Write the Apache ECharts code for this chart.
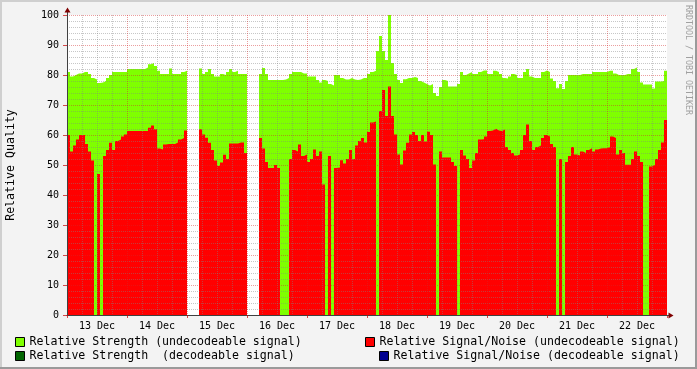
<!DOCTYPE html>
<html><head><meta charset="utf-8">
<script src="https://cdn.jsdelivr.net/npm/echarts@6/dist/echarts.min.js"></script>
<style>html,body{margin:0;padding:0;background:#F3F3F3}#c{width:697px;height:369px}</style>
</head><body><div id="c"></div>
<script>
// ---- data (each bin = 1.2 hours, starting 13 Dec 00:00) ----
const STEP_HOURS = 1.2;
const days = ['13 Dec','14 Dec','15 Dec','16 Dec','17 Dec','18 Dec','19 Dec','20 Dec','21 Dec','22 Dec'];
const seriesNames = [
  'Relative Strength (undecodeable signal)',
  'Relative Signal/Noise (undecodeable signal)',
  'Relative Strength  (decodeable signal)',
  'Relative Signal/Noise (decodeable signal)'
];
const strength = [
  81, 79.5, 80, 80.5, 80.5, 81, 81, 80.3, 79, 78.5,
  77.3, 77.5, 78, 79, 80, 81, 81, 81, 81, 81,
  82, 82, 82, 82, 82, 82, 82.5, 83.6, 84, 83,
  81.4, 80.3, 80.3, 80.3, 82.2, 80.3, 80.3, 80.3, 81, 81.4,
  null, null, null, null, 82.2, 80.3, 81, 82, 80.3, 79.5,
  79.5, 80.3, 80, 81, 82, 81, 81.4, 80.3, 80.3, 80.3,
  null, null, null, null, 80.3, 82.3, 80.3, 78.3, 78.3, 78.3,
  78.3, 78.3, 78.5, 79, 80.3, 81, 81, 81, 80.5, 80.5,
  79.5, 79.5, 79.5, 78.3, 77.5, 78.3, 78, 77, 76.5, 80,
  80, 79, 78.5, 78.5, 79, 78.5, 78.3, 78.5, 79, 79,
  80.3, 81, 81.4, 88, 93, 88, 85, 100, 84, 80.3,
  78.3, 77.3, 78.6, 79, 79, 79.3, 79, 78, 77.5, 77,
  76.5, 77, 74, 73, 76, 78.3, 78, 76.2, 76.2, 76.2,
  77, 81, 80, 80.5, 81, 80.3, 80.3, 81, 81.5, 81.5,
  80.3, 80.3, 81.4, 81, 80.3, 79, 78.8, 79.5, 80.3, 80,
  79, 79, 81, 82, 79.5, 79, 79, 79, 81, 81.5,
  81, 78.8, 78, 75.6, 77, 75.3, 78, 80, 80, 80,
  80, 80.3, 80.3, 80.3, 80.3, 81, 81, 81, 81, 81,
  81.4, 81.4, 80.5, 80, 80, 80, 80.3, 80.3, 82, 82.5,
  81, 77.5, 76.8, 76.8, 76.8, 75.5, 77.8, 77.8, 78, 81.4
];
const snr = [
  60, 54.5, 56.5, 58.5, 60, 60, 57, 54.5, 51.5, 0,
  47, 0, 53, 55, 57.4, 55, 58, 58.5, 59.5, 60.2,
  61.3, 61.3, 61.3, 61.3, 61.3, 61.3, 61.3, 62.4, 63.2, 61.9,
  55.5, 55.2, 56.8, 57, 57, 57, 57.5, 58.5, 59, 61.5,
  null, null, null, null, 61.9, 60.2, 59.1, 57.4, 55, 51.5,
  49.7, 50.8, 53.4, 52, 57.2, 57.2, 57.2, 57.5, 57.5, 54,
  null, null, null, null, 59, 55.5, 51, 49, 49, 50,
  49, 0, 0, 0, 52, 55, 54.5, 56.8, 53, 53.5,
  51, 52, 55.2, 53, 54.5, 43.5, 0, 53, 0, 49,
  49.2, 51.6, 50.5, 52, 55, 52, 56.5, 58, 59, 57.5,
  61, 64.2, 64.5, 0, 68, 75, 66.3, 76.2, 66.3, 60.2,
  53.5, 50.2, 54.8, 57.4, 60.2, 61, 60, 58, 60, 57.8,
  61.1, 60, 50.2, 0, 54.5, 52.5, 52.5, 52.5, 51, 49.7,
  0, 55, 53.2, 52, 49, 51.5, 54, 58.5, 58.6, 59.5,
  61.3, 61.5, 62.1, 61.5, 61.3, 61.8, 56, 55, 54, 53.2,
  53.5, 55, 60, 63.5, 58, 55, 56, 56.5, 59, 60,
  59.5, 57, 56, 0, 52, 0, 51, 53, 56, 53.5,
  53.2, 54.5, 54, 55, 55.6, 54.5, 55.2, 55.5, 55.6, 55.6,
  56, 59.5, 59, 53.5, 55, 54, 50.1, 50.1, 52, 54.5,
  53, 51, 0, 0, 49.5, 50, 52, 55, 57.5, 65
];
const strengthDecodeable = [];
const snrDecodeable = [];

// ---- build step data (each value held over its bin) ----
function stepData(vals) {
  const out = [];
  vals.forEach((v, i) => {
    const t0 = i * STEP_HOURS, t1 = (i + 1) * STEP_HOURS;
    if (v === null) out.push([t0 + STEP_HOURS / 2, null]);
    else { out.push([t0, v]); out.push([t1, v]); }
  });
  return out;
}

const FONT = '"DejaVu Sans Mono", monospace';
const majorGrid = {color: 'rgba(210,40,40,0.45)', type: [1, 1], width: 1};
const minorGrid = {color: 'rgba(130,130,130,0.45)', type: [1, 1], width: 1};
const legendBase = {
  orient: 'horizontal', padding: 0, itemWidth: 9, itemHeight: 9, itemGap: 0,
  selectedMode: false, icon: 'rect',
  textStyle: {fontFamily: FONT, fontSize: 11.6, color: '#000'},
  itemStyle: {borderColor: '#000', borderWidth: 1}
};
function areaSeries(name, vals, color) {
  return {
    name: name, type: 'line', data: stepData(vals), symbol: 'none', showSymbol: false,
    color: color, lineStyle: {width: 0}, areaStyle: {color: color, opacity: 1},
    connectNulls: false, silent: true, z: 2
  };
}

const chart = echarts.init(document.getElementById('c'), null, {renderer: 'canvas'});
const option = {
  animation: false,
  backgroundColor: '#F3F3F3',
  grid: {left: 67, right: 30, top: 15, bottom: 54, show: true, backgroundColor: '#ffffff', borderWidth: 0,
         containLabel: false, outerBoundsMode: 'none'},
  xAxis: [
    {
      type: 'value', min: 0, max: 240, interval: 24, z: 5,
      axisLine: {show: true, onZero: false, lineStyle: {color: '#404040', width: 1}},
      axisTick: {show: true, length: 3, lineStyle: {color: 'rgba(200,0,0,0.7)'}},
      axisLabel: {show: false},
      splitLine: {show: true, showMinLine: false, showMaxLine: false, lineStyle: majorGrid},
      minorTick: {show: false, splitNumber: 4},
      minorSplitLine: {show: true, lineStyle: minorGrid}
    },
    {
      type: 'value', min: 0, max: 240, interval: 12, position: 'bottom', z: 5,
      axisLine: {show: false}, axisTick: {show: false}, splitLine: {show: false},
      axisLabel: {
        show: true, margin: 6, fontFamily: FONT, fontSize: 10, color: '#000',
        formatter: function (v) { const h = Math.round(v); return (h % 24 === 12) ? days[(h - 12) / 24] : ''; }
      }
    }
  ],
  yAxis: {
    type: 'value', min: 0, max: 100, interval: 10, z: 5,
    name: 'Relative Quality', nameLocation: 'middle', nameGap: 50, nameRotate: 90,
    nameTextStyle: {fontFamily: FONT, fontSize: 11.6, color: '#000'},
    axisLine: {show: true, lineStyle: {color: '#404040', width: 1}},
    axisTick: {show: true, length: 4, lineStyle: {color: 'rgba(200,0,0,0.7)'}},
    axisLabel: {margin: 8, fontFamily: FONT, fontSize: 10, color: '#000'},
    splitLine: {show: true, showMinLine: false, lineStyle: majorGrid},
    minorTick: {show: false, splitNumber: 5},
    minorSplitLine: {show: true, lineStyle: minorGrid}
  },
  legend: [
    Object.assign({}, legendBase, {left: 15, top: 336, data: [seriesNames[0]]}),
    Object.assign({}, legendBase, {left: 365, top: 336, data: [seriesNames[1]]}),
    Object.assign({}, legendBase, {left: 15, top: 350, data: [seriesNames[2]]}),
    Object.assign({}, legendBase, {left: 379, top: 350, data: [seriesNames[3]]})
  ],
  series: [
    areaSeries(seriesNames[0], strength, '#7FFF00'),
    areaSeries(seriesNames[1], snr, '#FF0000'),
    areaSeries(seriesNames[2], strengthDecodeable, '#006400'),
    areaSeries(seriesNames[3], snrDecodeable, '#000090')
  ]
};
chart.setOption(option);

// decorations: frame shading, axis arrows, watermark
const tl = chart.convertToPixel({gridIndex: 0}, [0, 100]);
const br = chart.convertToPixel({gridIndex: 0}, [240, 0]);
const ax = Math.round(tl[0]) + 0.5, ay = Math.round(br[1]) + 0.5;
chart.setOption({
  graphic: [
    {type: 'rect', shape: {x: 0, y: 0, width: 697, height: 2}, style: {fill: '#CFCFCF'}, z: 100},
    {type: 'rect', shape: {x: 0, y: 0, width: 2, height: 369}, style: {fill: '#CFCFCF'}, z: 100},
    {type: 'rect', shape: {x: 695, y: 0, width: 2, height: 369}, style: {fill: '#9A9A9A'}, z: 100},
    {type: 'rect', shape: {x: 0, y: 367, width: 697, height: 2}, style: {fill: '#9A9A9A'}, z: 100},
    {type: 'line', shape: {x1: ax, y1: tl[1], x2: ax, y2: tl[1] - 3}, style: {stroke: '#404040', lineWidth: 1}, z: 100},
    {type: 'polygon', shape: {points: [[ax - 3, tl[1] - 2.5], [ax + 3, tl[1] - 2.5], [ax, tl[1] - 7.5]]}, style: {fill: '#7F0000'}, z: 100},
    {type: 'line', shape: {x1: br[0], y1: ay, x2: br[0] + 2, y2: ay}, style: {stroke: '#404040', lineWidth: 1}, z: 100},
    {type: 'polygon', shape: {points: [[br[0] + 1.5, ay - 3], [br[0] + 1.5, ay + 3], [br[0] + 6.5, ay]]}, style: {fill: '#7F0000'}, z: 100},
    {type: 'text', x: 688, y: 5, rotation: -Math.PI / 2,
     style: {text: 'RRDTOOL / TOBI OETIKER', font: '8.3px "DejaVu Sans Mono"', fill: '#A0A0A0', align: 'left', verticalAlign: 'middle'}, z: 100}
  ]
});
</script></body></html>
